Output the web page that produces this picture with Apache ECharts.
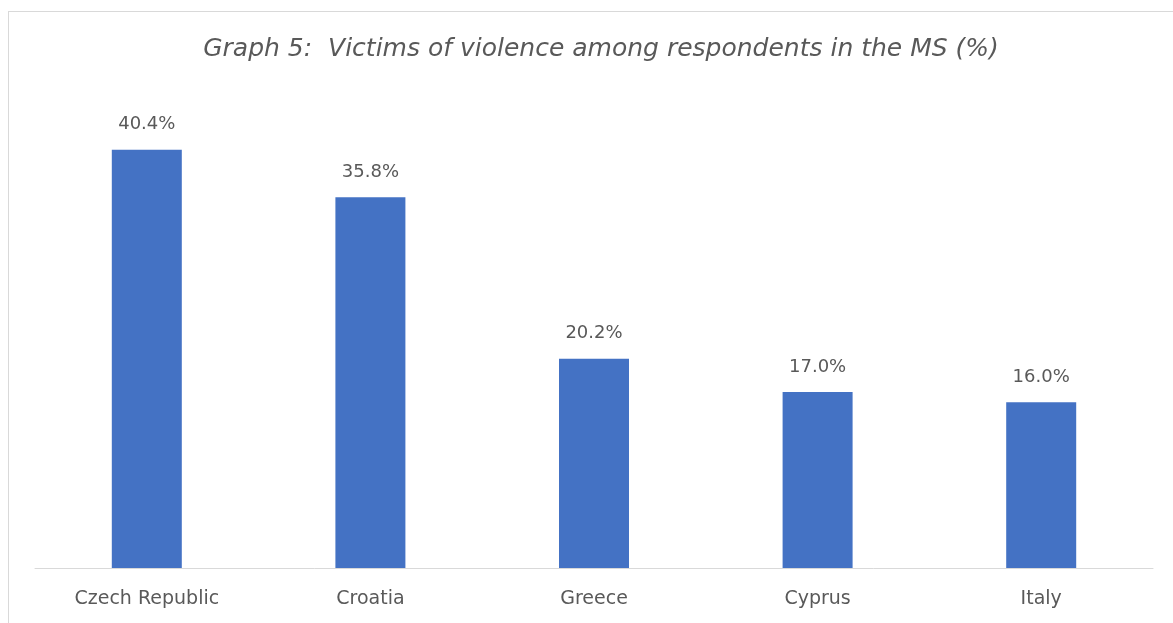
<!DOCTYPE html>
<html>
<head>
<meta charset="utf-8">
<script src="https://cdn.jsdelivr.net/npm/echarts@6/dist/echarts.min.js"></script>
<style>
  html, body { margin: 0; padding: 0; background: #fff; }
  #frame { position: absolute; left: 8px; top: 11px; width: 1180px; height: 630px; border: 1px solid #d9d9d9; box-sizing: border-box; }
  #main { position: absolute; left: 0; top: 0; width: 1173px; height: 623px; }
</style>
</head>
<body>
<div id="frame"></div>
<div id="main"></div>
<script>
var titleText = "Graph 5:  Victims of violence among respondents in the MS (%)";
var countries = ["Czech Republic", "Croatia", "Greece", "Cyprus", "Italy"];
var victims = [40.4, 35.8, 20.2, 17.0, 16.0];

var myChart = echarts.init(document.getElementById("main"));
myChart.setOption({
  animation: false,
  title: {
    text: titleText,
    left: 596,
    textAlign: "center",
    top: 32,
    textStyle: {
      color: "#595959",
      fontFamily: "DejaVu Sans",
      fontStyle: "italic",
      fontWeight: "normal",
      fontSize: 25
    }
  },
  grid: {
    left: 35,
    right: 20,
    top: 102,
    bottom: 55
  },
  xAxis: {
    type: "category",
    data: countries,
    axisTick: { show: false },
    axisLine: { lineStyle: { color: "#d9d9d9", width: 1 } },
    axisLabel: {
      color: "#595959",
      fontFamily: "DejaVu Sans",
      fontSize: 19,
      margin: 22
    }
  },
  yAxis: {
    type: "value",
    min: 0,
    max: 45,
    show: false,
    splitLine: { show: false }
  },
  series: [
    {
      type: "bar",
      data: victims,
      barWidth: 70,
      itemStyle: { color: "#4472c4" },
      label: {
        show: true,
        position: "top",
        distance: 16,
        color: "#595959",
        fontFamily: "DejaVu Sans",
        fontSize: 18,
        formatter: function (p) { return p.value.toFixed(1) + "%"; }
      }
    }
  ]
});
</script>
</body>
</html>
